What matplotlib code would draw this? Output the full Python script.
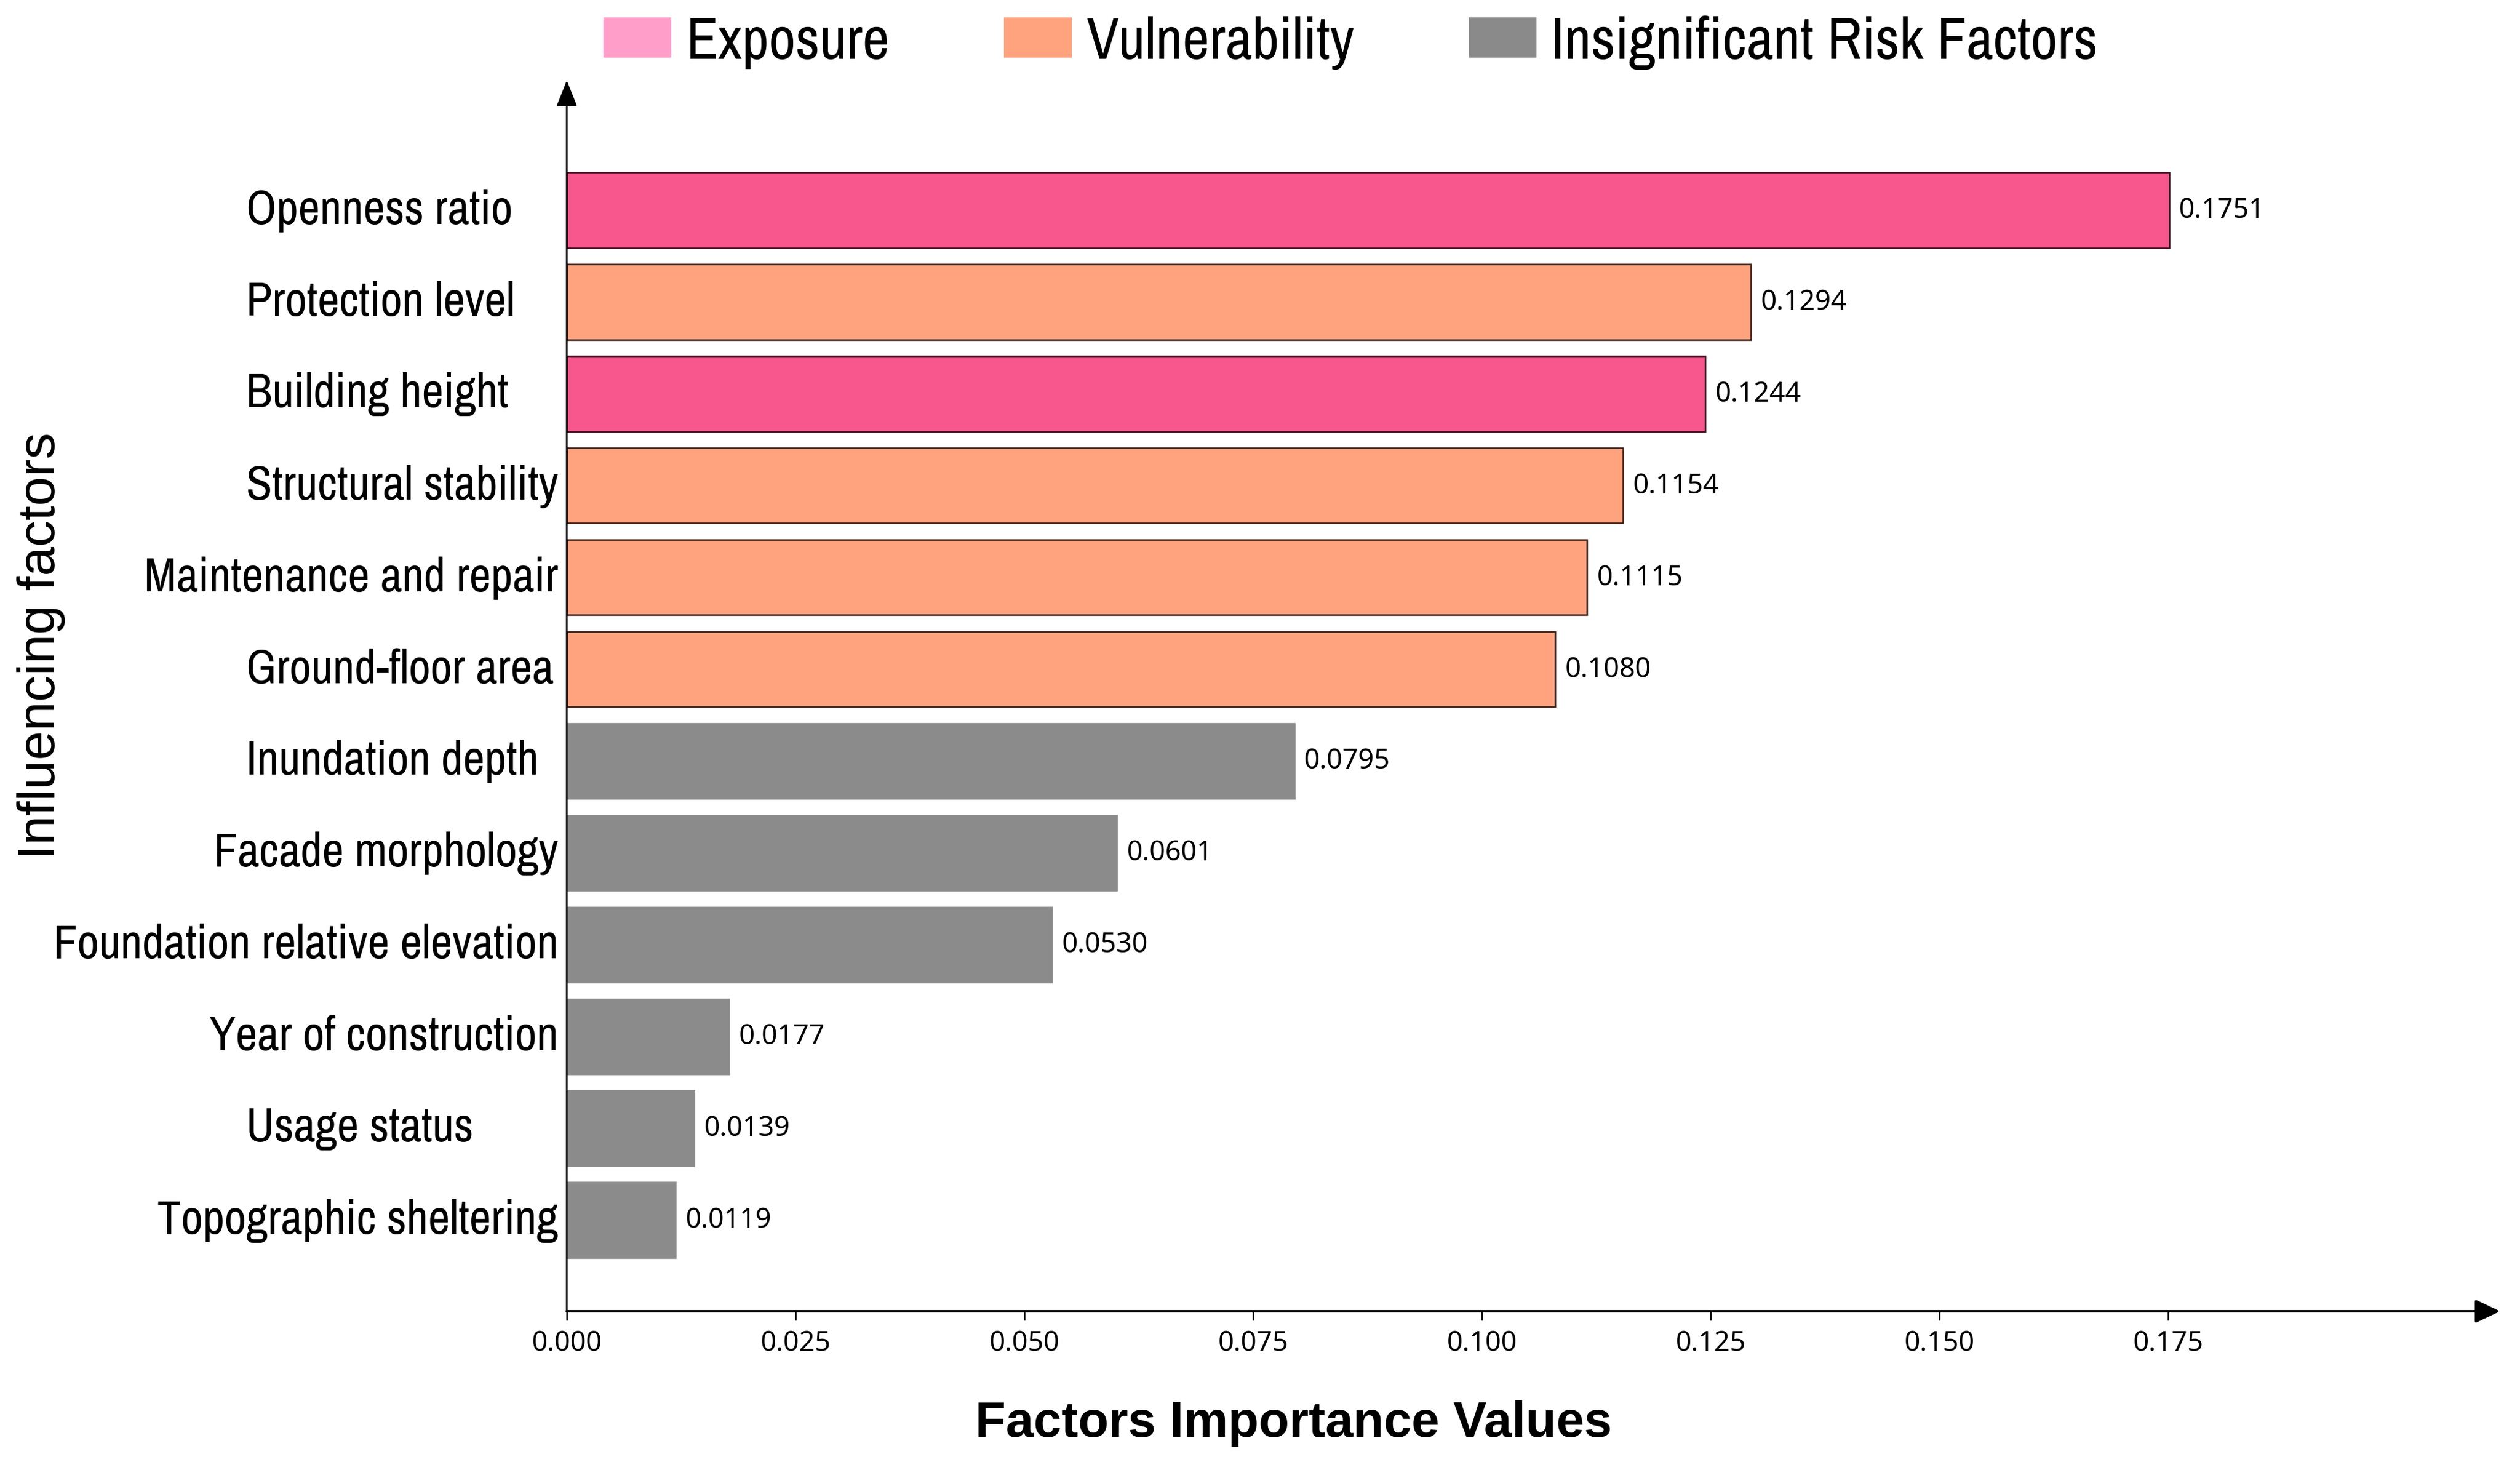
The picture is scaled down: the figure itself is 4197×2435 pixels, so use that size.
import matplotlib
matplotlib.use("Agg")
import matplotlib.pyplot as plt
import matplotlib.transforms as mtransforms
from matplotlib.patches import Patch

# datos
factores = ["Openness ratio", "Protection level", "Building height",
            "Structural stability", "Maintenance and repair", "Ground-floor area",
            "Inundation depth", "Facade morphology", "Foundation relative elevation",
            "Year of construction", "Usage status", "Topographic sheltering"]
valores = [0.1751, 0.1294, 0.1244, 0.1154, 0.1115, 0.1080,
           0.0795, 0.0601, 0.0530, 0.0177, 0.0139, 0.0119]
grupos = ["Exposure", "Vulnerability", "Exposure", "Vulnerability",
          "Vulnerability", "Vulnerability", "Insignificant Risk Factors",
          "Insignificant Risk Factors", "Insignificant Risk Factors",
          "Insignificant Risk Factors", "Insignificant Risk Factors",
          "Insignificant Risk Factors"]
nombres_grupo = ["Exposure", "Vulnerability", "Insignificant Risk Factors"]
xticks = [0.000, 0.025, 0.050, 0.075, 0.100, 0.125, 0.150, 0.175]

color_barra = {"Exposure": "#F7578C", "Vulnerability": "#FFA27E",
               "Insignificant Risk Factors": "#8B8B8B"}
color_borde = {"Exposure": "#3a1020", "Vulnerability": "#3a2018",
               "Insignificant Risk Factors": "#8B8B8B"}
color_leyenda = {"Exposure": "#FF9EC8", "Vulnerability": "#FFA37F",
                 "Insignificant Risk Factors": "#8A8A8A"}

# fuente estrecha (como Arial Narrow), con respaldo
narrow = ["Archivo Narrow", "Liberation Sans Narrow", "Liberation Sans", "DejaVu Sans"]
normal = ["Liberation Sans", "DejaVu Sans"]
numeros = ["Noto Sans", "DejaVu Sans"]

W, H = 4197, 2436
fig = plt.figure(figsize=(W / 300, H / 300), dpi=300)
ax = fig.add_axes([944 / W, 1 - 2185 / H, (4164 - 944) / W, (2185 - 135) / H])

pos = list(range(len(factores)))
ax.barh(pos, valores, height=0.82,
        color=[color_barra[g] for g in grupos],
        edgecolor=[color_borde[g] for g in grupos], linewidth=0.6, zorder=2)

ax.set_xlim(0, 3220 / 15240)
ax.set_ylim(11.994, -1.413)

for s in ax.spines.values():
    s.set_visible(False)

# ejes con flechas
ax.annotate("", xy=(1, 0), xytext=(0, 0), xycoords="axes fraction",
            arrowprops=dict(arrowstyle="-|>,head_length=0.85,head_width=0.4",
                            mutation_scale=10, lw=1.0, color="black",
                            shrinkA=0, shrinkB=0), zorder=5)
ax.annotate("", xy=(0, 1), xytext=(0, 0), xycoords="axes fraction",
            arrowprops=dict(arrowstyle="-|>,head_length=0.9,head_width=0.36",
                            mutation_scale=10, lw=0.7, color="black",
                            shrinkA=0, shrinkB=0), zorder=5)

ax.set_xticks(xticks)
ax.set_xticklabels([f"{t:.3f}" for t in xticks], fontfamily=numeros, fontsize=11)
ax.tick_params(axis="x", direction="out", length=3.6, width=0.6, pad=3.5)
ax.set_yticks(pos)
ax.set_yticklabels([])
ax.tick_params(axis="y", direction="in", length=4.5, width=1.0)

# etiquetas de valores
for p, v in zip(pos, valores):
    ax.annotate(f"{v:.4f}", xy=(v, p), xytext=(4, 0), textcoords="offset points",
                ha="left", va="center", fontsize=11, fontfamily=numeros)

# nombres de factores: alineados a la izquierda salvo que no quepan
trans = mtransforms.blended_transform_factory(fig.transFigure, ax.transData)
etiquetas = []
for p, f in zip(pos, factores):
    t = ax.text(410 / W, p, f, transform=trans, ha="left", va="center",
                fontsize=19, fontfamily=narrow)
    etiquetas.append(t)
fig.canvas.draw()
r = fig.canvas.get_renderer()
for t in etiquetas:
    bb = t.get_window_extent(r)
    if bb.x1 > 930:
        t.set_x(930 / W)
        t.set_ha("right")

fig.text(69 / W, 1 - 1076 / H, "Influencing factors", rotation=90,
         ha="center", va="center", fontsize=21, fontfamily=normal)
fig.text(2154 / W, 1 - 2393 / H, "Factors Importance Values",
         ha="center", va="baseline", fontsize=20, fontweight="bold",
         fontfamily=normal)

handles = [Patch(facecolor=color_leyenda[g], edgecolor="none") for g in nombres_grupo]
fig.legend(handles, nombres_grupo, loc="center", bbox_to_anchor=(0.536, 0.971),
           ncol=3, frameon=False, borderpad=0, handlelength=1.15, handleheight=0.68,
           handletextpad=0.25, columnspacing=1.95,
           prop=dict(family=narrow, size=23.5))

fig.savefig("out.png", dpi=300)
